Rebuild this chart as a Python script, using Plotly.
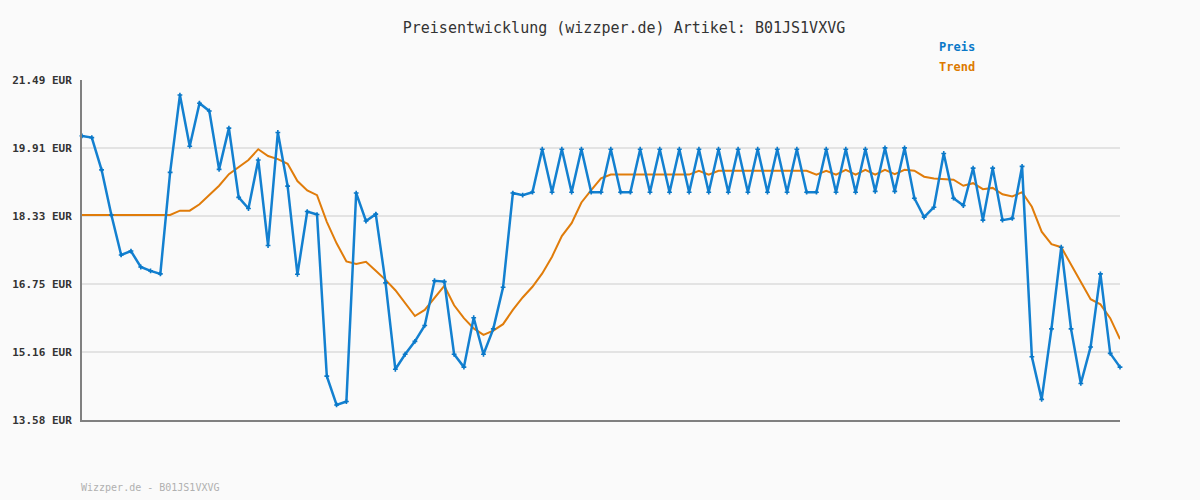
import plotly.graph_objects as go

preis = [
    20.19, 20.15, 19.40, 18.35, 17.42, 17.51, 17.14, 17.05, 16.98, 19.34,
    21.14, 19.95, 20.95, 20.77, 19.41, 20.37, 18.76, 18.50, 19.63, 17.64,
    20.27, 19.02, 16.97, 18.43, 18.36, 14.60, 13.93, 14.01, 18.86, 18.21,
    18.37, 16.77, 14.76, 15.11, 15.41, 15.78, 16.82, 16.80, 15.11, 14.81,
    15.96, 15.11, 15.70, 16.67, 18.86, 18.81, 18.88, 19.88, 18.88, 19.88,
    18.88, 19.88, 18.88, 18.88, 19.88, 18.88, 18.88, 19.88, 18.88, 19.88,
    18.88, 19.88, 18.88, 19.88, 18.88, 19.88, 18.88, 19.88, 18.88, 19.88,
    18.88, 19.88, 18.88, 19.88, 18.88, 18.88, 19.88, 18.88, 19.88, 18.88,
    19.88, 18.90, 19.91, 18.90, 19.91, 18.74, 18.30, 18.53, 19.78, 18.74,
    18.57, 19.44, 18.23, 19.44, 18.23, 18.27, 19.48, 15.05, 14.06, 15.70,
    17.60, 15.70, 14.43, 15.28, 16.98, 15.13, 14.81,
]
trend = [
    18.35, 18.35, 18.35, 18.35, 18.35, 18.35, 18.35, 18.35, 18.35, 18.35,
    18.45, 18.45, 18.60, 18.81, 19.03, 19.30, 19.47, 19.63, 19.88, 19.72,
    19.65, 19.54, 19.14, 18.92, 18.81, 18.19, 17.69, 17.27, 17.21, 17.26,
    17.05, 16.84, 16.60, 16.29, 16.00, 16.14, 16.41, 16.70, 16.25, 15.95,
    15.71, 15.56, 15.66, 15.81, 16.14, 16.43, 16.68, 16.99, 17.38, 17.86,
    18.16, 18.64, 18.93, 19.20, 19.29, 19.29, 19.29, 19.29, 19.29, 19.29,
    19.29, 19.29, 19.29, 19.38, 19.29, 19.38, 19.38, 19.38, 19.38, 19.38,
    19.38, 19.38, 19.38, 19.38, 19.38, 19.29, 19.38, 19.29, 19.40, 19.29,
    19.40, 19.29, 19.40, 19.30, 19.40, 19.38, 19.24, 19.20, 19.19, 19.17,
    19.03, 19.09, 18.95, 18.98, 18.83, 18.78, 18.88, 18.54, 17.96, 17.67,
    17.60, 17.19, 16.78, 16.39, 16.27, 15.95, 15.46,
]
x_index = list(range(len(preis)))

tick_values = [13.58, 15.16, 16.75, 18.33, 19.91, 21.49]
tick_labels = [f"{v:.2f} EUR" for v in tick_values]

title_text = "Preisentwicklung (wizzper.de) Artikel: B01JS1VXVG"
footer_text = "Wizzper.de - B01JS1VXVG"

BLUE = "#1380d0"
ORANGE = "#e07c0a"
MONO = "DejaVu Sans Mono, Liberation Mono, monospace"

W, H = 1200, 500
ML, MR, MT, MB = 80, 80, 80, 80
pw, ph = W - ML - MR, H - MT - MB


def px_to_paper(xp, yp):
    return (xp - ML) / pw, ((H - yp) - MB) / ph


fig = go.Figure()
fig.add_trace(go.Scatter(
    x=x_index, y=trend, mode="lines", name="Trend",
    line=dict(color=ORANGE, width=2), cliponaxis=False,
))
fig.add_trace(go.Scatter(
    x=x_index, y=preis, mode="lines+markers", name="Preis",
    line=dict(color=BLUE, width=2.5),
    marker=dict(symbol="cross", size=4, color="#0a78c8"),
    cliponaxis=False,
))

ann = []
for text, xp, yp, color, size, weight in [
    ("Preis", 937, 47, "#0a78c8", 12, "bold"),
    ("Trend", 937, 67, "#dd7a00", 12, "bold"),
    (footer_text, 77, 487, "#b0b0b0", 10, "normal"),
]:
    ax, ay = px_to_paper(xp, yp)
    ann.append(dict(text=text, x=ax, y=ay, xref="paper", yref="paper",
                    showarrow=False, xanchor="left", yanchor="middle",
                    font=dict(family=MONO, size=size, color=color, weight=weight)))

fig.update_layout(
    width=W, height=H,
    paper_bgcolor="#fafafa", plot_bgcolor="#fafafa",
    margin=dict(l=ML, r=MR, t=MT, b=MB),
    showlegend=False,
    title=dict(text=title_text, x=624 / W, xref="container", xanchor="center",
               y=1 - 28 / H, yanchor="middle",
               font=dict(family=MONO, size=15, color="#333333")),
    xaxis=dict(range=[0, len(preis) - 1], showticklabels=False, showgrid=False,
               zeroline=False, showline=True, linecolor="#808080", linewidth=2,
               ticks=""),
    yaxis=dict(range=[13.58, 21.49], tickvals=tick_values, ticktext=tick_labels,
               showgrid=True, gridcolor="#e3e3e3", gridwidth=2, zeroline=False,
               showline=True, linecolor="#808080", linewidth=2, ticks="",
               ticklabelstandoff=6,
               tickfont=dict(family=MONO, size=11, color="#333333", weight="bold")),
    annotations=ann,
)

fig.write_html(
    "out.html",
    config={"displayModeBar": False},
    post_script="document.body.style.margin='0';document.body.style.background='#fafafa';",
)
